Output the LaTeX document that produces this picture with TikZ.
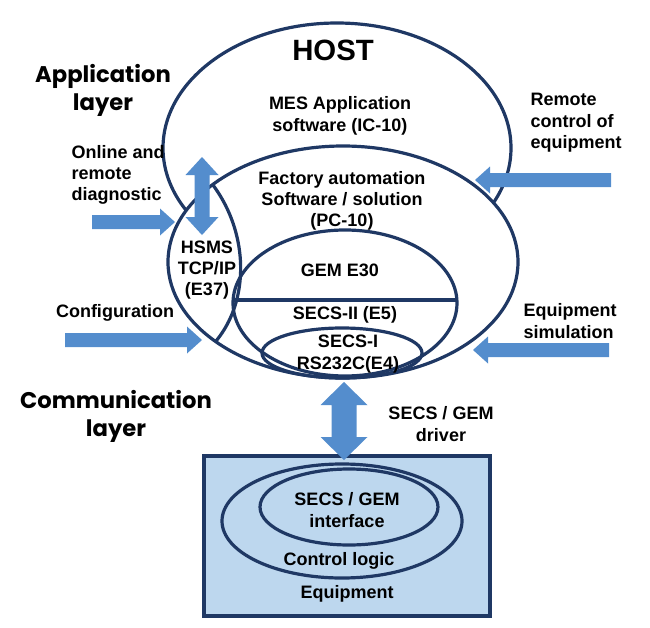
\documentclass[tikz,border=0pt]{standalone}
\usepackage{fontspec}
\setmainfont{Liberation Sans}
\newfontfamily\layerfont{Poppins}
\definecolor{ringnavy}{RGB}{31,56,100}
\definecolor{arrowblue}{RGB}{84,141,205}
\definecolor{boxblue}{RGB}{189,215,238}

\begin{document}
\begin{tikzpicture}[x=0.75pt,y=0.75pt,yscale=-1,xscale=1,
  ring/.style={color=ringnavy, line width=2.4pt},
  blockarrow/.style={fill=arrowblue, draw=none},
  label/.style={font=\bfseries\fontsize{13.5}{16}\selectfont, align=center},
  layer/.style={font=\layerfont\bfseries\fontsize{17}{21}\selectfont, align=center}]
\useasboundingbox (0,0) rectangle (650,628);

%Shape: Ellipse HOST
\draw [ring, fill=white] (337,148) ellipse (174 and 125);
%Shape: Ellipse factory automation
\draw [ring, fill=white] (343,262) ellipse (175 and 116);
%Curve HSMS divider
\begin{scope}
\clip (343,262) ellipse (175 and 116);
\draw [ring] (200,170) .. controls (255,225) and (255,320) .. (195,360) ;
\end{scope}
%Shape: Ellipse GEM
\draw [ring] (345,303) ellipse (112 and 73);
%Straight Lines
\draw [ring] (233,300) -- (457,300) ;
%Shape: Ellipse SECS-I
\draw [ring] (342,353) ellipse (80 and 25);

%Shape: Rectangle equipment
\draw [ring, fill=boxblue] (204,456) rectangle (490,616);
%Shape: Ellipse control logic
\draw [ring] (342,521) ellipse (120 and 57);
%Shape: Ellipse interface
\draw [ring] (349,507) ellipse (89 and 38);

%Block arrows
\fill [blockarrow] (92,215) -- (160,215) -- (160,208.5) -- (175,222) -- (160,235.5) -- (160,229) -- (92,229) -- cycle ;
\fill [blockarrow] (65,333) -- (187,333) -- (187,326.5) -- (202,340) -- (187,353.5) -- (187,347) -- (65,347) -- cycle ;
\fill [blockarrow] (611,173) -- (490,173) -- (490,166.5) -- (475,180) -- (490,193.5) -- (490,187) -- (611,187) -- cycle ;
\fill [blockarrow] (609,343) -- (488,343) -- (488,336.5) -- (473,350) -- (488,363.5) -- (488,357) -- (609,357) -- cycle ;
%Double arrows
\fill [blockarrow] (202,157) -- (218.5,175) -- (209.5,175) -- (209.5,217) -- (218.5,217) -- (202,235) -- (185.5,217) -- (194.5,217) -- (194.5,175) -- (185.5,175) -- cycle ;
\fill [blockarrow] (344,382) -- (367.5,405) -- (356.5,405) -- (356.5,437) -- (367.5,437) -- (344,460) -- (320.5,437) -- (331.5,437) -- (331.5,405) -- (320.5,405) -- cycle ;

% Text Node
\draw (333,50) node (host) [font=\bfseries\fontsize{22}{26}\selectfont] {HOST};
% Text Node
\draw (340,116) node (mes) [label] {MES Application\\software (IC-10)};
% Text Node
\draw (342,201) node (factory) [label] {Factory automation\\Software / solution\\(PC-10)};
% Text Node
\draw (207,270) node (hsms) [label] {HSMS\\TCP/IP\\(E37)};
% Text Node
\draw (340,270) node (gem) [label] {GEM E30};
% Text Node
\draw (345,315) node (secsii) [label] {SECS-II (E5)};
% Text Node
\draw (348,354) node (secsi) [label] {SECS-I\\RS232C(E4)};
% Text Node
\draw (67,175) node (online) [label, anchor=west, align=left] {Online and\\remote\\diagnostic};
% Text Node
\draw (526,123) node (remote) [label, anchor=west, align=left] {Remote\\control of\\equipment};
% Text Node
\draw (115,313) node (config) [label] {Configuration};
% Text Node
\draw (519,321) node (sim) [label, anchor=west, align=left] {Equipment\\simulation};
% Text Node
\draw (441,424) node (driver) [label] {SECS / GEM\\driver};
% Text Node
\draw (347,510) node (iface) [label] {SECS / GEM\\interface};
% Text Node
\draw (339,561) node (logic) [label] {Control logic};
% Text Node
\draw (347,594) node (equip) [label] {Equipment};
% Text Node
\draw (103,90) node (applayer) [layer] {Application\\layer};
% Text Node
\draw (116,416.5) node (commlayer) [layer] {Communication\\layer};

\end{tikzpicture}
\end{document}
